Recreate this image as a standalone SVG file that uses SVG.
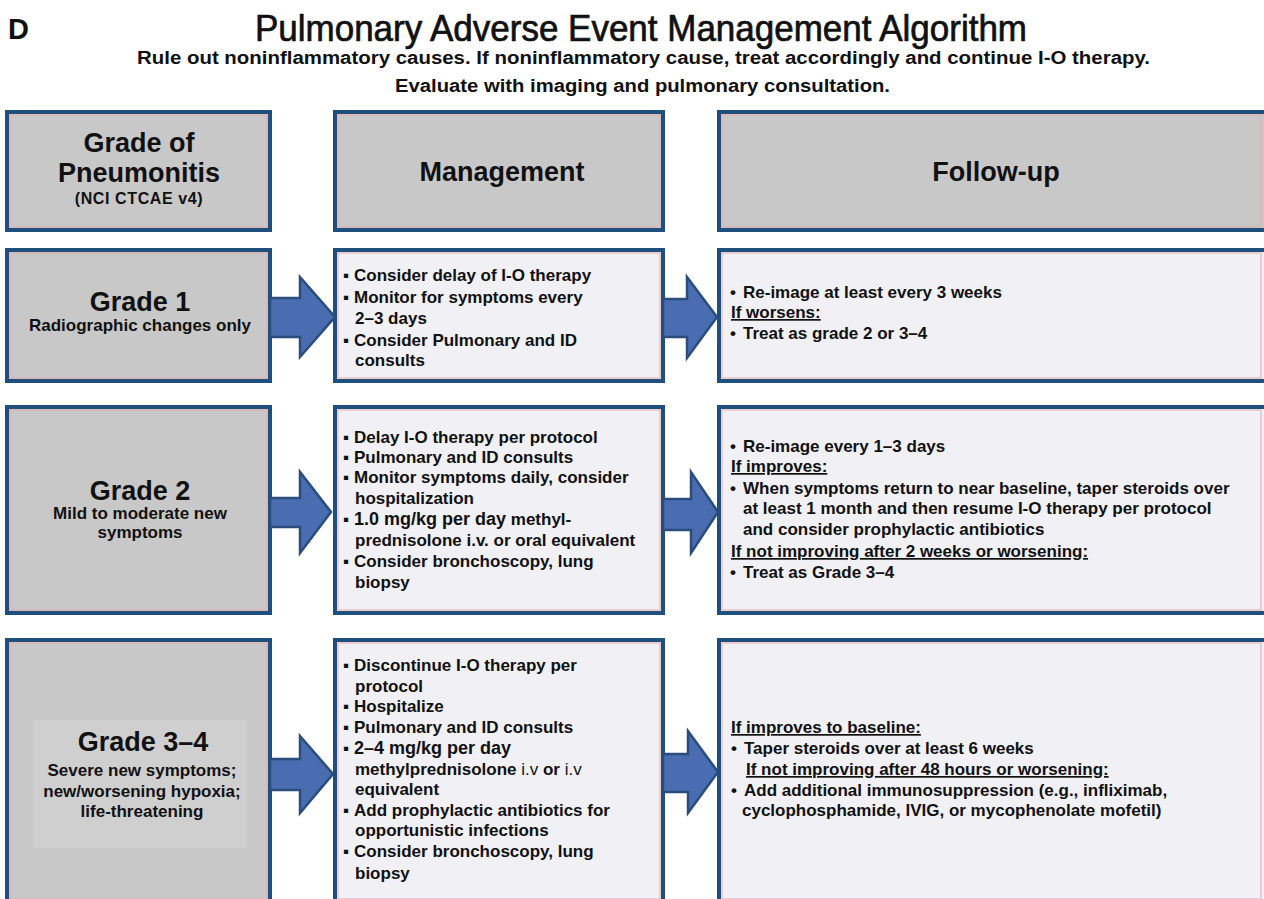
<svg xmlns="http://www.w3.org/2000/svg" width="1264" height="899" viewBox="0 0 1264 899">
<style>
.bg{fill:#ffffff}
.grade{fill:#c8c8c8;stroke:#1f4f7c;stroke-width:4}
.info{fill:#f0f0f5;stroke:#1f4f7c;stroke-width:4}
.inner{fill:none;stroke:#e6a9b0;stroke-width:1}
.arrow{fill:#4a6cb0;stroke:#2a4d7e;stroke-width:2.5;stroke-linejoin:miter}
text{font-family:"Liberation Sans",Arial,Helvetica,sans-serif;fill:#111111}
.h1{font-size:36px;stroke:#111111;stroke-width:0.7px}
.sub{font-size:18px;font-weight:bold}
.hd{font-size:27px;font-weight:bold;text-anchor:middle}
.hs{font-size:16px;font-weight:bold;text-anchor:middle;letter-spacing:0.6px}
.gs{font-size:17px;font-weight:bold;text-anchor:middle}
.t{font-size:17px;font-weight:bold}
.big{font-size:18px}
.u{text-decoration:underline}
.n{font-weight:normal}
</style>
<rect class="bg" x="0" y="0" width="1264" height="899"/>

<g id="title">
<text x="8" y="39" style="font-size:29px;font-weight:bold">D</text>
<text class="h1" x="255" y="41" textLength="772" lengthAdjust="spacingAndGlyphs">Pulmonary Adverse Event Management Algorithm</text>
<text class="sub" x="137" y="64" textLength="1013" lengthAdjust="spacingAndGlyphs">Rule out noninflammatory causes. If noninflammatory cause, treat accordingly and continue I-O therapy.</text>
<text class="sub" x="395" y="92" textLength="495" lengthAdjust="spacingAndGlyphs">Evaluate with imaging and pulmonary consultation.</text>
</g>

<!-- Header row -->
<g id="hdr-grade">
<rect class="grade" x="7" y="112" width="263" height="118"/>
<rect class="inner" x="10" y="115" width="257" height="112"/>
<text class="hd" x="139" y="152">Grade of</text>
<text class="hd" x="139" y="182">Pneumonitis</text>
<text class="hs" x="139" y="204">(NCI CTCAE v4)</text>
</g>
<g id="hdr-management">
<rect class="grade" x="335" y="112" width="328" height="118"/>
<rect class="inner" x="338" y="115" width="322" height="112"/>
<text class="hd" x="502" y="181">Management</text>
</g>
<g id="hdr-followup">
<rect class="grade" x="719" y="112" width="560" height="118"/>
<rect class="inner" x="722" y="115" width="539" height="112"/>
<text class="hd" x="996" y="181">Follow-up</text>
</g>

<!-- Row 1 -->
<g id="grade1">
<rect class="grade" x="7" y="250" width="263" height="131"/>
<rect class="inner" x="10" y="253" width="257" height="125"/>
<text class="hd" x="140" y="311">Grade 1</text>
<text class="gs" x="140" y="331">Radiographic changes only</text>
</g>
<g id="mgmt1">
<rect class="info" x="335" y="250" width="328" height="131"/>
<rect class="inner" x="338" y="253" width="322" height="125"/>
<text class="t" y="281"><tspan x="343">▪</tspan><tspan x="354">Consider delay of I-O therapy</tspan></text>
<text class="t" y="303"><tspan x="343">▪</tspan><tspan x="354">Monitor for symptoms every</tspan></text>
<text class="t" x="355" y="324">2–3 days</text>
<text class="t" y="346"><tspan x="343">▪</tspan><tspan x="354">Consider Pulmonary and ID</tspan></text>
<text class="t" x="355" y="366">consults</text>
</g>
<g id="follow1">
<rect class="info" x="719" y="250" width="560" height="131"/>
<rect class="inner" x="722" y="253" width="539" height="125"/>
<text class="t" y="298"><tspan x="730">•</tspan><tspan x="743">Re-image at least every 3 weeks</tspan></text>
<text class="t u" x="731" y="318">If worsens:</text>
<text class="t" y="339"><tspan x="730">•</tspan><tspan x="743">Treat as grade 2 or 3–4</tspan></text>
</g>

<!-- Row 2 -->
<g id="grade2">
<rect class="grade" x="7" y="407" width="263" height="206"/>
<rect class="inner" x="10" y="410" width="257" height="200"/>
<text class="hd" x="140" y="500">Grade 2</text>
<text class="gs" x="140" y="519">Mild to moderate new</text>
<text class="gs" x="140" y="538">symptoms</text>
</g>
<g id="mgmt2">
<rect class="info" x="335" y="407" width="328" height="206"/>
<rect class="inner" x="338" y="410" width="322" height="200"/>
<text class="t" y="443"><tspan x="343">▪</tspan><tspan x="354">Delay I-O therapy per protocol</tspan></text>
<text class="t" y="463"><tspan x="343">▪</tspan><tspan x="354">Pulmonary and ID consults</tspan></text>
<text class="t" y="483"><tspan x="343">▪</tspan><tspan x="354">Monitor symptoms daily, consider</tspan></text>
<text class="t" x="355" y="504">hospitalization</text>
<text class="t" y="525"><tspan x="343">▪</tspan><tspan x="354" class="big">1.0 mg/kg per day</tspan><tspan> methyl-</tspan></text>
<text class="t" x="355" y="546">prednisolone i.v. or oral equivalent</text>
<text class="t" y="567"><tspan x="343">▪</tspan><tspan x="354">Consider bronchoscopy, lung</tspan></text>
<text class="t" x="355" y="588">biopsy</text>
</g>
<g id="follow2">
<rect class="info" x="719" y="407" width="560" height="206"/>
<rect class="inner" x="722" y="410" width="539" height="200"/>
<text class="t" y="452"><tspan x="730">•</tspan><tspan x="743">Re-image every 1–3 days</tspan></text>
<text class="t u" x="731" y="472">If improves:</text>
<text class="t" y="494"><tspan x="730">•</tspan><tspan x="743">When symptoms return to near baseline, taper steroids over</tspan></text>
<text class="t" x="743" y="514">at least 1 month and then resume I-O therapy per protocol</text>
<text class="t" x="743" y="535">and consider prophylactic antibiotics</text>
<text class="t u" x="731" y="557">If not improving after 2 weeks or worsening:</text>
<text class="t" y="578"><tspan x="730">•</tspan><tspan x="743">Treat as Grade 3–4</tspan></text>
</g>

<!-- Row 3 -->
<g id="grade34">
<rect class="grade" x="7" y="640" width="263" height="262"/>
<rect class="inner" x="10" y="643" width="257" height="256"/>
<rect x="33" y="720" width="214" height="128" fill="#cfcfcf"/>
<text class="hd" x="143" y="751">Grade 3–4</text>
<text class="gs" x="142" y="776">Severe new symptoms;</text>
<text class="gs" x="142" y="797">new/worsening hypoxia;</text>
<text class="gs" x="142" y="817">life-threatening</text>
</g>
<g id="mgmt34">
<rect class="info" x="335" y="640" width="328" height="262"/>
<rect class="inner" x="338" y="643" width="322" height="256"/>
<text class="t" y="671"><tspan x="343">▪</tspan><tspan x="354">Discontinue I-O therapy per</tspan></text>
<text class="t" x="355" y="692">protocol</text>
<text class="t" y="712"><tspan x="343">▪</tspan><tspan x="354">Hospitalize</tspan></text>
<text class="t" y="733"><tspan x="343">▪</tspan><tspan x="354">Pulmonary and ID consults</tspan></text>
<text class="t" y="754"><tspan x="343">▪</tspan><tspan x="354" class="big">2–4 mg/kg per day</tspan></text>
<text class="t" x="355" y="775">methylprednisolone <tspan class="n">i.v</tspan> or <tspan class="n">i.v</tspan></text>
<text class="t" x="355" y="795">equivalent</text>
<text class="t" y="816"><tspan x="343">▪</tspan><tspan x="354">Add prophylactic antibiotics for</tspan></text>
<text class="t" x="355" y="836">opportunistic infections</text>
<text class="t" y="857"><tspan x="343">▪</tspan><tspan x="354">Consider bronchoscopy, lung</tspan></text>
<text class="t" x="355" y="879">biopsy</text>
</g>
<g id="follow34">
<rect class="info" x="719" y="640" width="560" height="262"/>
<rect class="inner" x="722" y="643" width="539" height="256"/>
<text class="t u" x="731" y="733">If improves to baseline:</text>
<text class="t" y="754"><tspan x="731">•</tspan><tspan x="744">Taper steroids over at least 6 weeks</tspan></text>
<text class="t u" x="746" y="775">If not improving after 48 hours or worsening:</text>
<text class="t" y="796"><tspan x="731">•</tspan><tspan x="744">Add additional immunosuppression (e.g., infliximab,</tspan></text>
<text class="t" x="742" y="816">cyclophosphamide, IVIG, or mycophenolate mofetil)</text>
</g>

<!-- Connectors: block arrows -->
<g id="connectors">
<path class="arrow" d="M270,298 H300 V277 L335,317 L300,357 V337 H270 Z"/>
<path class="arrow" d="M663,299 H687 V277 L717,317 L687,358 V337 H663 Z"/>
<path class="arrow" d="M270,498 H300 V472 L331,512 L300,553 V527 H270 Z"/>
<path class="arrow" d="M663,499 H691 V472 L718,512 L691,553 V530 H663 Z"/>
<path class="arrow" d="M270,759 H300 V736 L333,774 L300,813 V790 H270 Z"/>
<path class="arrow" d="M663,754 H688 V731 L718,772 L688,813 V792 H663 Z"/>
</g>
</svg>
